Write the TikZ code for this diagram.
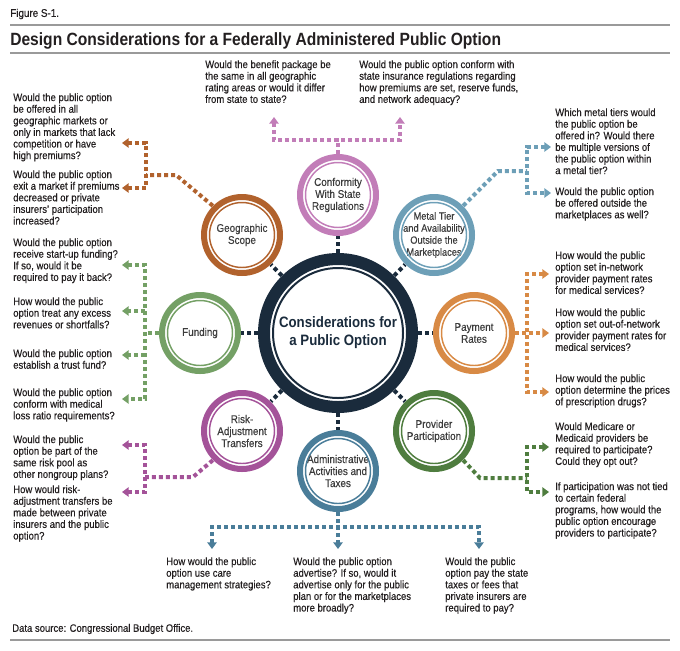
\documentclass[tikz,border=0pt]{standalone}
\usepackage{fontspec}
\setmainfont{Liberation Sans}[FakeStretch=0.88,UprightFeatures={FakeBold=0.35}]
\usetikzlibrary{arrows.meta}

\definecolor{navyc}{HTML}{1A2B3C}
\definecolor{confc}{HTML}{C27DB8}
\definecolor{geoc}{HTML}{B1622D}
\definecolor{metalc}{HTML}{6D9FB7}
\definecolor{fundc}{HTML}{74A065}
\definecolor{payc}{HTML}{D88A45}
\definecolor{riskc}{HTML}{A45399}
\definecolor{provc}{HTML}{4F7D3F}
\definecolor{admc}{HTML}{4A7D99}
\definecolor{txtc}{HTML}{231F20}
\definecolor{labc}{HTML}{3C3C3C}
\definecolor{rulec}{HTML}{9A9A9A}

\newcommand\qfont{\fontsize{8.1}{8.7}\selectfont}
\newcommand\satfont{\fontsize{8.4}{9}\selectfont}

\tikzset{
  sat/.style={circle,minimum size=61.5pt,inner sep=0pt,align=center,font=\satfont,text=labc},
  ques/.style={anchor=north west,align=left,inner sep=0pt,font=\qfont,text=txtc},
  conn/.style={draw=#1,line width=3pt,dash pattern=on 3pt off 2.25pt},
  tip/.style={-{Triangle[length=5pt,width=7pt]}},
  both/.style={{Triangle[length=5pt,width=7pt]}-{Triangle[length=5pt,width=7pt]}},
  stub/.style={draw=navyc,line width=3pt,dash pattern=on 3pt off 2.25pt},
}

\begin{document}
\begin{tikzpicture}[x=0.75pt,y=-0.75pt]
  \useasboundingbox (0,0) rectangle (680,650);
  % header and footer
  \node[anchor=west,inner sep=0pt,font=\fontsize{8.4}{9}\selectfont,text=txtc] (fig) at (10,14) {Figure S-1.};
  \draw[rulec,line width=2.2pt] (10,25) -- (670,25);
  \node[anchor=west,inner sep=0pt,font=\bfseries\fontsize{13.3}{15}\selectfont,text=txtc] (title) at (10,41) {Design Considerations for a Federally Administered Public Option};
  \draw[rulec,line width=1.2pt] (10,53) -- (670,53);
  \node[anchor=west,inner sep=0pt,font=\qfont,text=txtc] (src) at (12,629) {Data source: Congressional Budget Office.};
  \draw[rulec,line width=1.5pt] (10,640) -- (670,640);

  % hub and topics
  \node[circle,minimum size=120pt,inner sep=0pt,align=center,text=navyc,
        font=\bfseries\fontsize{11.3}{13.5}\selectfont] (ctr) at (338,333) {Considerations for\\a Public Option};
  \node[sat] (conf) at (338,195) {Conformity\\With State\\Regulations};
  \node[sat,font=\fontsize{7.9}{9}\selectfont] (metal) at (434,235) {Metal Tier\\and Availability\\Outside the\\Marketplaces};
  \node[sat] (pay) at (474,333) {Payment\\Rates};
  \node[sat] (prov) at (434,431) {Provider\\Participation};
  \node[sat] (adm) at (338,471) {Administrative\\Activities and\\Taxes};
  \node[sat] (risk) at (242,431) {Risk-\\Adjustment\\Transfers};
  \node[sat] (fund) at (200,333) {Funding};
  \node[sat] (geo) at (242,235) {Geographic\\Scope};

  \foreach \s in {conf,metal,pay,prov,adm,risk,fund,geo}
    \draw[stub] (ctr) -- (\s);

  \draw[navyc,line width=9pt] (ctr) circle[radius=74];
  \draw[navyc,line width=1.5pt] (ctr) circle[radius=65];
  \foreach \s/\c in {conf/confc,metal/metalc,pay/payc,prov/provc,adm/admc,risk/riskc,fund/fundc,geo/geoc}{
    \draw[\c,line width=4.5pt] (\s) circle[radius=38];
    \draw[\c,line width=1.1pt] (\s) circle[radius=32.5];
  }

  % questions
  \node[ques] (conf-q1) at (205,60) {Would the benefit package be\\the same in all geographic\\rating areas or would it differ\\from state to state?};
  \node[ques] (conf-q2) at (359,60) {Would the public option conform with\\state insurance regulations regarding\\how premiums are set, reserve funds,\\and network adequacy?};
  \node[ques] (geo-q1) at (13,93) {Would the public option\\be offered in all\\geographic markets or\\only in markets that lack\\competition or have\\high premiums?};
  \node[ques] (geo-q2) at (13,170) {Would the public option\\exit a market if premiums\\decreased or private\\insurers' participation\\increased?};
  \node[ques] (fund-q1) at (13,238) {Would the public option\\receive start-up funding?\\If so, would it be\\required to pay it back?};
  \node[ques] (fund-q2) at (13,297) {How would the public\\option treat any excess\\revenues or shortfalls?};
  \node[ques] (fund-q3) at (13,349) {Would the public option\\establish a trust fund?};
  \node[ques] (fund-q4) at (13,388) {Would the public option\\conform with medical\\loss ratio requirements?};
  \node[ques] (risk-q1) at (13,435) {Would the public\\option be part of the\\same risk pool as\\other nongroup plans?};
  \node[ques] (risk-q2) at (13,485) {How would risk-\\adjustment transfers be\\made between private\\insurers and the public\\option?};
  \node[ques] (metal-q1) at (555,108) {Which metal tiers would\\the public option be\\offered in? Would there\\be multiple versions of\\the public option within\\a metal tier?};
  \node[ques] (metal-q2) at (555,187) {Would the public option\\be offered outside the\\marketplaces as well?};
  \node[ques] (pay-q1) at (555,251) {How would the public\\option set in-network\\provider payment rates\\for medical services?};
  \node[ques] (pay-q2) at (555,308) {How would the public\\option set out-of-network\\provider payment rates for\\medical services?};
  \node[ques] (pay-q3) at (555,374) {How would the public\\option determine the prices\\of prescription drugs?};
  \node[ques] (prov-q1) at (555,422) {Would Medicare or\\Medicaid providers be\\required to participate?\\Could they opt out?};
  \node[ques] (prov-q2) at (555,482) {If participation was not tied\\to certain federal\\programs, how would the\\public option encourage\\providers to participate?};
  \node[ques] (adm-q1) at (166,557) {How would the public\\option use care\\management strategies?};
  \node[ques] (adm-q2) at (293,557) {Would the public option\\advertise? If so, would it\\advertise only for the public\\plan or for the marketplaces\\more broadly?};
  \node[ques] (adm-q3) at (445,557) {Would the public\\option pay the state\\taxes or fees that\\private insurers are\\required to pay?};

  % connectors to questions
  \coordinate (conf-j) at (338,140);
  \coordinate (conf-a1) at (274,117); \coordinate (conf-a2) at (400,117);
  \draw[conn=confc] (conf) -- (conf-j);
  \draw[conn=confc,both] (conf-a1) |- (conf-j) -| (conf-a2);

  \coordinate (geo-k) at (176,175); \coordinate (geo-j) at (146,175);
  \coordinate (geo-a1) at (122,143); \coordinate (geo-a2) at (122,188);
  \draw[conn=geoc] (geo.135) -- (geo-k) -- (geo-j);
  \draw[conn=geoc,both] (geo-a1) -| (geo-a2 -| geo-j) -- (geo-a2);

  \coordinate (fund-j) at (145,333);
  \coordinate (fund-a1) at (122,265); \coordinate (fund-a2) at (122,311);
  \coordinate (fund-a3) at (122,355); \coordinate (fund-a4) at (122,399);
  \draw[conn=fundc] (fund) -- (fund-j);
  \draw[conn=fundc,both] (fund-a1) -| (fund-a4 -| fund-j) -- (fund-a4);
  \draw[conn=fundc,tip] (fund-a2 -| fund-j) -- (fund-a2);
  \draw[conn=fundc,tip] (fund-a3 -| fund-j) -- (fund-a3);

  \coordinate (risk-k) at (193,477); \coordinate (risk-j) at (145,477);
  \coordinate (risk-a1) at (122,445); \coordinate (risk-a2) at (122,492);
  \draw[conn=riskc] (risk.225) -- (risk-k) -- (risk-j);
  \draw[conn=riskc,both] (risk-a1) -| (risk-a2 -| risk-j) -- (risk-a2);

  \coordinate (metal-k) at (498,171); \coordinate (metal-j) at (527,171);
  \coordinate (metal-a1) at (551,147); \coordinate (metal-a2) at (551,193);
  \draw[conn=metalc] (metal.45) -- (metal-k) -- (metal-j);
  \draw[conn=metalc,both] (metal-a1) -| (metal-a2 -| metal-j) -- (metal-a2);

  \coordinate (pay-j) at (527,333);
  \coordinate (pay-a1) at (549,274); \coordinate (pay-a2) at (549,333); \coordinate (pay-a3) at (549,392);
  \draw[conn=payc,tip] (pay) -- (pay-a2);
  \draw[conn=payc,both] (pay-a1) -| (pay-a3 -| pay-j) -- (pay-a3);

  \coordinate (prov-k) at (480,478); \coordinate (prov-j) at (527,478);
  \coordinate (prov-a1) at (549,447); \coordinate (prov-a2) at (549,492);
  \draw[conn=provc] (prov.-45) -- (prov-k) -- (prov-j);
  \draw[conn=provc,both] (prov-a1) -| (prov-a2 -| prov-j) -- (prov-a2);

  \coordinate (adm-j) at (338,527);
  \coordinate (adm-a1) at (212,549); \coordinate (adm-a2) at (338,549); \coordinate (adm-a3) at (479,549);
  \draw[conn=admc,tip] (adm) -- (adm-a2);
  \draw[conn=admc,both] (adm-a1) |- (adm-j) -| (adm-a3);
\end{tikzpicture}
\end{document}
